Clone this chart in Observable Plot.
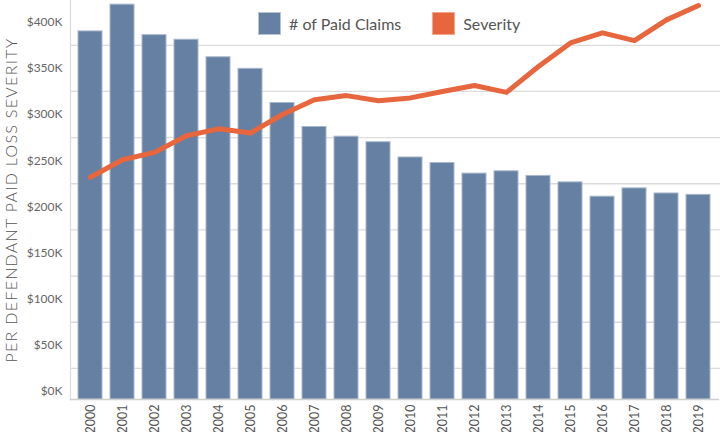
<!DOCTYPE html>
<html>
<head>
<meta charset="utf-8">
<script src="https://cdn.jsdelivr.net/npm/d3@7"></script>
<script src="https://cdn.jsdelivr.net/npm/@observablehq/plot@0.6"></script>
<style>
  body { margin: 0; background: #fff; }
  #wrap { position: relative; width: 720px; height: 432px; font-family: Lato, "Open Sans", sans-serif; }
  #legend { position: absolute; top: 12px; left: 258px; display: flex; align-items: center; font-size: 16px; color: #555; }
  .sw { width: 21px; height: 21px; margin-right: 8px; box-sizing: content-box; }
  .item { display: flex; align-items: center; margin-right: 31px; }
</style>
</head>
<body>
<div id="wrap">
  <div id="legend">
    <div class="item"><div class="sw" style="background:#6580a2;border:1px solid #b7c4d5"></div># of Paid Claims</div>
    <div class="item"><div class="sw" style="background:#e8663d;border:1px solid #f3a88e"></div>Severity</div>
  </div>
</div>
<script>
const years = ["2000","2001","2002","2003","2004","2005","2006","2007","2008","2009",
               "2010","2011","2012","2013","2014","2015","2016","2017","2018","2019"];
// Per defendant paid loss severity ($)
const severity = [232000, 251000, 259000, 277000, 284500, 280000, 300000, 316000, 320500, 315000,
                  318000, 325000, 331500, 324000, 352000, 377500, 388500, 380000, 402500, 418000];
// # of paid claims (bars, unlabeled secondary axis) — bar tops as read against the left axis
const claimsLevel = [390000, 419000, 386000, 381000, 362000, 349500, 312500, 286500, 276000, 270000,
                     253500, 247500, 236000, 238500, 233500, 226500, 211000, 220000, 214500, 213000];
const yTicks = [0, 50000, 100000, 150000, 200000, 250000, 300000, 350000, 400000];
const gridLines = [25000, 75000, 125000, 175000, 225000, 275000, 325000, 375000];
const yDomain = [-8660, 423500];

const data = years.map((year, i) => ({year, severity: severity[i], claims: claimsLevel[i]}));

const chart = Plot.plot({
  width: 720,
  height: 432,
  marginTop: 0,
  marginBottom: 33,
  marginLeft: 70,
  marginRight: 2,
  style: {fontFamily: "Lato, 'Open Sans', sans-serif", background: "#fff"},
  x: {domain: years, padding: 0.24, label: null},
  y: {domain: yDomain, label: null},
  marks: [
    Plot.ruleY(gridLines, {stroke: "#dcdcdc", strokeWidth: 1.3, insetRight: -2}),
    Plot.frame({anchor: "left", stroke: "#dcdcdc", strokeWidth: 1.3}),
    Plot.barY(data, {x: "year", y1: yDomain[0], y2: "claims", fill: "#6580a2", stroke: "#a9b8cc", strokeWidth: 1}),
    Plot.frame({anchor: "bottom", stroke: "#cfcfcf", strokeWidth: 1.3}),
    Plot.line(data, {x: "year", y: "severity", stroke: "#e8663d", strokeWidth: 5, strokeLinejoin: "round", strokeLinecap: "round"}),
    Plot.axisY(yTicks, {
      tickSize: 0, tickPadding: 8, fontSize: 12, color: "#666",
      tickFormat: d => `$${d / 1000}K`,
      label: "PER DEFENDANT PAID LOSS SEVERITY", labelAnchor: "center", labelArrow: "none", labelOffset: 65
    }),
    Plot.axisX({tickSize: 0, tickRotate: -90, tickPadding: 5, fontSize: 12.5, color: "#555", label: null})
  ]
});

d3.select(chart).select('g[aria-label="y-axis label"]')
  .attr("font-size", 16)
  .attr("font-weight", 300)
  .style("letter-spacing", "1.3px")
  .attr("fill", "#555");

document.getElementById("wrap").prepend(chart);
</script>
</body>
</html>
